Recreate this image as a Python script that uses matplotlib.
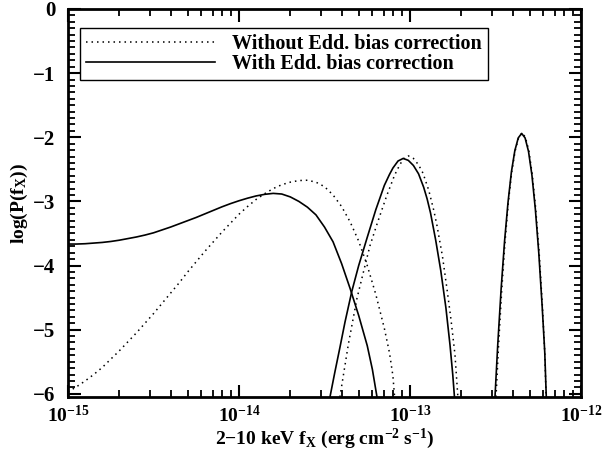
import numpy as np
import matplotlib
matplotlib.use("Agg")
import matplotlib.pyplot as plt
from matplotlib.ticker import MultipleLocator, LogLocator, NullFormatter

plt.rcParams['font.family'] = ['Liberation Serif', 'DejaVu Serif']
plt.rcParams['font.weight'] = 'bold'
plt.rcParams['mathtext.fontset'] = 'custom'
plt.rcParams['mathtext.rm'] = 'Liberation Serif:bold'
plt.rcParams['mathtext.bf'] = 'Liberation Serif:bold'
plt.rcParams['mathtext.it'] = 'Liberation Serif:bold'
plt.rcParams['mathtext.default'] = 'bf'

# ---- data: log10 flux (x) and log10 probability (y) ----
# With Eddington bias correction (solid)
with_low_logf = [-15.00, -14.95, -14.90, -14.85, -14.80, -14.75, -14.70, -14.65, -14.60,
                 -14.55, -14.50, -14.45, -14.40, -14.35, -14.30, -14.25, -14.20, -14.15,
                 -14.10, -14.05, -14.00, -13.95, -13.90, -13.85, -13.80, -13.75, -13.70,
                 -13.65, -13.60, -13.55, -13.50, -13.45, -13.40, -13.35, -13.30, -13.25,
                 -13.22, -13.193]
with_low_logp = [-3.665, -3.665, -3.66, -3.65, -3.64, -3.625, -3.605, -3.58, -3.555,
                 -3.525, -3.49, -3.445, -3.40, -3.35, -3.30, -3.25, -3.195, -3.14,
                 -3.085, -3.035, -2.99, -2.95, -2.915, -2.89, -2.875, -2.885, -2.93,
                 -3.00, -3.09, -3.21, -3.40, -3.63, -3.97, -4.36, -4.78, -5.25,
                 -5.62, -6.05]

with_mid_logf = [-13.468, -13.44, -13.41, -13.38, -13.34, -13.30, -13.25, -13.20, -13.15,
                 -13.12, -13.10, -13.07, -13.04, -13.01, -12.98, -12.95, -12.92, -12.90,
                 -12.88, -12.85, -12.82, -12.79, -12.766, -12.75, -12.74]
with_mid_logp = [-6.05, -5.67, -5.28, -4.88, -4.40, -4.00, -3.56, -3.13, -2.75,
                 -2.58, -2.48, -2.37, -2.33, -2.36, -2.44, -2.57, -2.78, -2.96,
                 -3.18, -3.60, -4.08, -4.66, -5.24, -5.70, -6.05]

with_high_logf = [-12.503, -12.487, -12.467, -12.447, -12.427, -12.407, -12.387, -12.367,
                  -12.347, -12.327, -12.307, -12.287, -12.267, -12.247, -12.227, -12.212,
                  -12.203]
with_high_logp = [-6.05, -5.24, -4.36, -3.62, -3.02, -2.54, -2.21, -2.01,
                  -1.94, -2.01, -2.22, -2.59, -3.12, -3.80, -4.64, -5.35,
                  -6.05]

# Without Eddington bias correction (dotted)
without_low_logf = [-15.00, -14.95, -14.90, -14.85, -14.80, -14.75, -14.70, -14.65, -14.60,
                    -14.55, -14.50, -14.45, -14.40, -14.35, -14.30, -14.25, -14.20, -14.15,
                    -14.10, -14.05, -14.00, -13.95, -13.90, -13.85, -13.80, -13.75, -13.70,
                    -13.65, -13.60, -13.55, -13.50, -13.45, -13.40, -13.35, -13.30, -13.25,
                    -13.20, -13.15, -13.12, -13.10, -13.09]
without_low_logp = [-5.97, -5.89, -5.80, -5.70, -5.59, -5.46, -5.33, -5.19, -5.05,
                    -4.90, -4.75, -4.59, -4.43, -4.27, -4.10, -3.94, -3.78, -3.63,
                    -3.48, -3.34, -3.20, -3.08, -2.97, -2.88, -2.80, -2.74, -2.70,
                    -2.675, -2.67, -2.70, -2.77, -2.90, -3.08, -3.32, -3.62, -4.00,
                    -4.45, -4.98, -5.36, -5.72, -6.05]

without_mid_logf = [-13.41, -13.36, -13.31, -13.263, -13.234, -13.19, -13.136, -13.09, -13.058,
                    -13.035, -13.01, -12.98, -12.95, -12.924, -12.89, -12.86, -12.842, -12.81,
                    -12.784, -12.76, -12.737, -12.72]
without_mid_logp = [-6.05, -5.22, -4.51, -4.00, -3.69, -3.33, -2.91, -2.59, -2.42,
                    -2.33, -2.29, -2.33, -2.43, -2.56, -2.83, -3.15, -3.38, -3.86,
                    -4.36, -4.85, -5.39, -6.05]

without_high_logf = [-12.497, -12.482, -12.463, -12.444, -12.425, -12.405, -12.385, -12.365,
                     -12.345, -12.325, -12.305, -12.285, -12.265, -12.245, -12.226, -12.212,
                     -12.204]
without_high_logp = [-6.05, -5.24, -4.36, -3.62, -3.02, -2.54, -2.21, -2.01,
                     -1.93, -2.00, -2.21, -2.58, -3.11, -3.79, -4.62, -5.35,
                     -6.05]

xticks = [1e-15, 1e-14, 1e-13, 1e-12]
xticklabels = [r'$10^{-15}$', r'$10^{-14}$', r'$10^{-13}$', r'$10^{-12}$']
yticks = [0, -1, -2, -3, -4, -5, -6]
yticklabels = ['0', '\u22121', '\u22122', '\u22123', '\u22124', '\u22125', '\u22126']
legend_labels = ['Without Edd. bias correction', 'With Edd. bias correction']

fig = plt.figure(figsize=(6.03, 4.51), dpi=100)
ax = fig.add_axes([68/603, 1-397/451, (581-68)/603, (397-9)/451])

dot = (0, (1, 2.6))
for lf, lp in [(without_low_logf, without_low_logp), (without_mid_logf, without_mid_logp),
               (without_high_logf, without_high_logp)]:
    ax.plot(10**np.array(lf), lp, color='black', lw=1.1, linestyle=dot)
for lf, lp in [(with_low_logf, with_low_logp), (with_mid_logf, with_mid_logp),
               (with_high_logf, with_high_logp)]:
    ax.plot(10**np.array(lf), lp, color='black', lw=1.2, linestyle='-')

h1, = ax.plot([], [], color='black', lw=1.1, linestyle=dot)
h2, = ax.plot([], [], color='black', lw=1.2, linestyle='-')

ax.set_xscale('log')
ax.set_xlim(1e-15, 1e-12)
ax.set_ylim(-6.05, 0)

ax.set_xticks(xticks)
ax.set_xticklabels(xticklabels)
ax.xaxis.set_minor_locator(LogLocator(base=10, subs=np.arange(2, 10)))
ax.xaxis.set_minor_formatter(NullFormatter())
ax.set_yticks(yticks)
ax.set_yticklabels(yticklabels)
ax.yaxis.set_minor_locator(MultipleLocator(0.1))

ax.tick_params(which='both', direction='in', top=True, right=True, width=1.5)
ax.tick_params(which='major', length=9)
ax.tick_params(which='minor', length=5, width=1.3)
ax.tick_params(axis='x', which='major', pad=6, labelsize=14)
ax.tick_params(axis='y', which='major', pad=9, labelsize=15)
for s in ax.spines.values():
    s.set_linewidth(2)

ax.set_xlabel(r'2$-$10 keV f$_{\mathbf{X}}$ (erg cm$^{-2}$ s$^{-1}$)', fontsize=14, fontweight='bold', labelpad=0)
ax.set_ylabel(r'log(P(f$_{\mathbf{X}}$))', fontsize=14, fontweight='bold', labelpad=2)

leg = ax.legend([h1, h2], legend_labels,
                loc='upper left', bbox_to_anchor=(0.023, 0.951), borderaxespad=0,
                fancybox=False, edgecolor='black', framealpha=1,
                handlelength=6.4, handletextpad=0.85, borderpad=0.3, labelspacing=0.0,
                prop={'weight': 'bold', 'size': 14.5})
leg.get_frame().set_linewidth(1.0)

fig.savefig('out.png', dpi=100)
